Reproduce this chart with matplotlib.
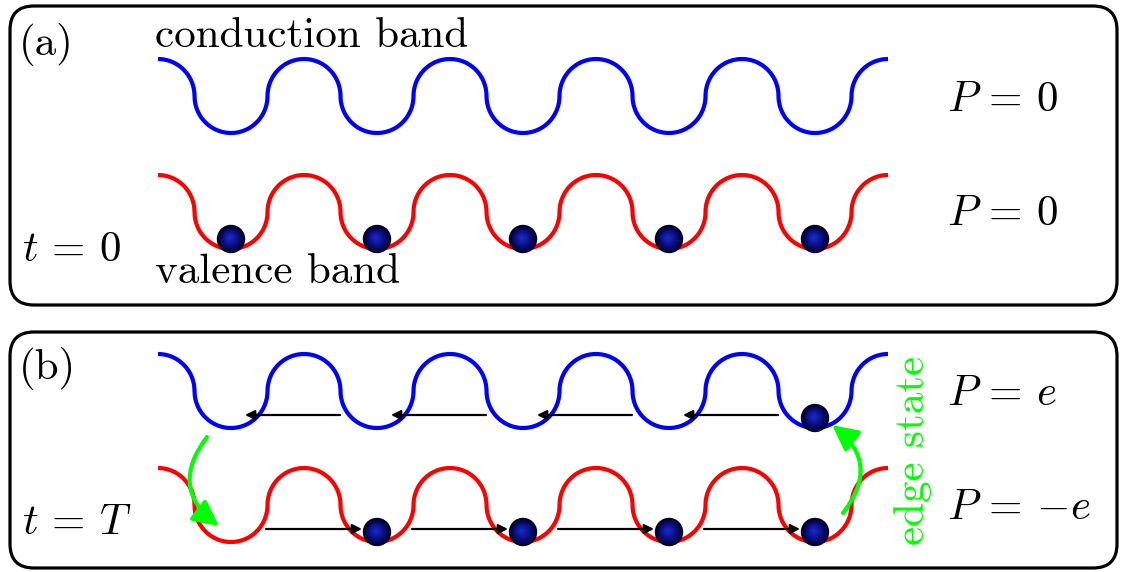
import numpy as np
import matplotlib
matplotlib.use("Agg")
import matplotlib.pyplot as plt
from matplotlib.patches import FancyBboxPatch, FancyArrowPatch, Circle

plt.rcParams["mathtext.fontset"] = "cm"
plt.rcParams["font.family"] = ["cmr10", "DejaVu Serif"]
plt.rcParams["axes.unicode_minus"] = False

# ---- schematic content ----
n_wells = 5
panel_labels = ["(a)", "(b)"]
time_labels = [r"$t$ = 0", r"$t$ = $T$"]
band_names = ["conduction band", "valence band"]
# occupancy of each well (1 = electron present)
occ_a_conduction = [0, 0, 0, 0, 0]
occ_a_valence = [1, 1, 1, 1, 1]
occ_b_conduction = [0, 0, 0, 0, 1]
occ_b_valence = [0, 1, 1, 1, 1]
# shift direction of the charge pumping per band in panel (b): -1 left, +1 right
pump_b_conduction = [-1, -1, -1, -1]
pump_b_valence = [1, 1, 1, 1]
pol_a = [r"$P$ = 0", r"$P$ = 0"]
pol_b = [r"$P$ = $e$", r"$P$ = $-e$"]
edge_label = "edge state"

# ---- layout (pixel coordinates, y downward) ----
W, H = 1127, 572
fig = plt.figure(figsize=(W / 100, H / 100), dpi=100)
ax = fig.add_axes([0, 0, 1, 1])
ax.set_xlim(0, W)
ax.set_ylim(H, 0)
ax.axis("off")

x0 = 158.0          # left end of band (top of a hump)
period = 146.0
rx = period / 4
ry = 37.0
BLUE, RED, GREEN = "#0000ff", "#ff0000", "#00ff00"


def well_x(i):
    return x0 + period * (i + 0.5)


def band_curve(ymid):
    xs, ys = [], []
    n_half = 2 * n_wells + 1
    for k in range(n_half):
        s0 = np.pi / 2 if k == 0 else 0.0
        s1 = np.pi / 2 if k == n_half - 1 else np.pi
        s = np.linspace(s0, s1, 80)
        left = x0 - rx + 2 * rx * k
        sign = -1 if k % 2 == 0 else 1
        xs.append(left + rx - rx * np.cos(s))
        ys.append(ymid + sign * ry * np.sin(s))
    return np.concatenate(xs), np.concatenate(ys)


def draw_band(ymid, color):
    x, y = band_curve(ymid)
    ax.plot(x, y, color=color, lw=3.0, solid_capstyle="butt", zorder=2)


def electron(x, y, r=13.5):
    ax.add_patch(Circle((x, y), r, facecolor="#000040", edgecolor="black",
                        lw=1.0, zorder=5))
    n = 12
    for j in range(n):
        f = j / n
        rr = r * (1 - f) * 0.92
        c = (0.0 + 0.10 * f, 0.0 + 0.18 * f, 0.30 + 0.55 * f)
        ax.add_patch(Circle((x - 1.5 * f, y - 1.5 * f), rr, facecolor=c,
                            edgecolor="none", zorder=5))


def draw_electrons(ymid, occ):
    for i, o in enumerate(occ):
        if o:
            electron(well_x(i), ymid + ry - 10)


def draw_pumping(ymid, dirs):
    yb = ymid + ry - 13
    for i, d in enumerate(dirs):
        if d < 0:
            a, b = well_x(i + 1) - 37, well_x(i) + 14
        else:
            a, b = well_x(i) + 35, well_x(i + 1) - 15
        ax.add_patch(FancyArrowPatch((a, yb), (b, yb), arrowstyle="-|>",
                                     mutation_scale=14, lw=1.6, color="black",
                                     shrinkA=0, shrinkB=0, zorder=4))


# panel boxes
for (y_top, h) in [(6, 299), (332, 236)]:
    ax.add_patch(FancyBboxPatch((10, y_top), 1107, h,
                                boxstyle="round,pad=0,rounding_size=24",
                                fill=False, ec="black", lw=2.3, zorder=1))

FS = 31
txt = dict(fontsize=FS, color="black", va="center", ha="left")

# panel (a)
ya_c, ya_v = 96, 212
draw_band(ya_c, BLUE)
draw_band(ya_v, RED)
draw_electrons(ya_c, occ_a_conduction)
draw_electrons(ya_v, occ_a_valence)
ax.text(19, 44, panel_labels[0], **txt)
ax.text(155, 36, band_names[0], **txt)
ax.text(155, 272, band_names[1], **txt)
ax.text(22, 250, time_labels[0], **txt)
ax.text(947, 100, pol_a[0], **txt)
ax.text(947, 214, pol_a[1], **txt)

# panel (b)
yb_c, yb_v = 391, 505
draw_band(yb_c, BLUE)
draw_band(yb_v, RED)
draw_pumping(yb_c, pump_b_conduction)
draw_pumping(yb_v, pump_b_valence)
draw_electrons(yb_c, occ_b_conduction)
draw_electrons(yb_v, occ_b_valence)
ax.text(19, 369, panel_labels[1], **txt)
ax.text(22, 523, time_labels[1], **txt)
ax.text(947, 394, pol_b[0], **txt)
ax.text(947, 508, pol_b[1], **txt)
ax.text(913, 450, edge_label, fontsize=FS, color=GREEN, rotation=90,
        ha="center", va="center")

# edge-state transfer arrows
ax.add_patch(FancyArrowPatch((207, 437), (219, 526), arrowstyle="-|>",
                             connectionstyle="arc3,rad=0.5",
                             mutation_scale=38, lw=3.0, color=GREEN,
                             shrinkA=0, shrinkB=0, zorder=6))
ax.add_patch(FancyArrowPatch((843, 513), (832, 425), arrowstyle="-|>",
                             connectionstyle="arc3,rad=0.5",
                             mutation_scale=38, lw=3.0, color=GREEN,
                             shrinkA=0, shrinkB=0, zorder=6))

fig.savefig("out.png", dpi=100)
